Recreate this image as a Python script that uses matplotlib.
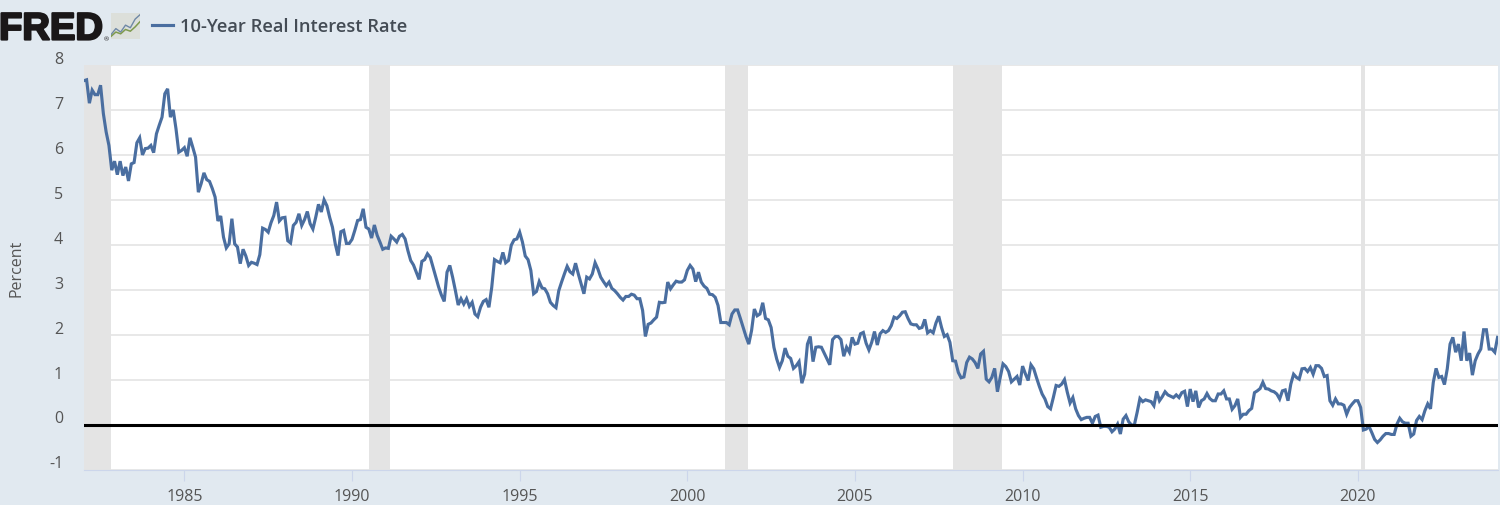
import numpy as np
import matplotlib
matplotlib.use('Agg')
import matplotlib.pyplot as plt
import matplotlib.patheffects as pe
from matplotlib.patches import Rectangle
from matplotlib.transforms import ScaledTranslation

# monthly values, one list per year
r1982 = [7.65, 7.67, 7.15, 7.44, 7.34, 7.34, 7.55, 6.92, 6.51, 6.21, 5.66, 5.86]
r1983 = [5.56, 5.86, 5.54, 5.73, 5.42, 5.80, 5.83, 6.27, 6.38, 6.00, 6.14, 6.15]
r1984 = [6.21, 6.05, 6.47, 6.66, 6.84, 7.36, 7.47, 6.84, 7.00, 6.58, 6.06, 6.10]
r1985 = [6.16, 5.97, 6.38, 6.17, 5.95, 5.17, 5.36, 5.60, 5.45, 5.41, 5.25, 5.06]
r1986 = [4.53, 4.64, 4.17, 3.93, 4.02, 4.58, 4.02, 3.95, 3.58, 3.90, 3.75, 3.54]
r1987 = [3.61, 3.59, 3.56, 3.78, 4.37, 4.34, 4.28, 4.49, 4.65, 4.95, 4.53, 4.60]
r1988 = [4.61, 4.09, 4.04, 4.43, 4.50, 4.69, 4.43, 4.56, 4.74, 4.47, 4.35, 4.61]
r1989 = [4.90, 4.73, 5.00, 4.87, 4.61, 4.39, 4.02, 3.76, 4.29, 4.32, 4.03, 4.03]
r1990 = [4.12, 4.32, 4.54, 4.56, 4.80, 4.39, 4.35, 4.15, 4.44, 4.21, 4.06, 3.90]
r1991 = [3.93, 3.92, 4.19, 4.13, 4.06, 4.19, 4.23, 4.13, 3.87, 3.65, 3.55, 3.39]
r1992 = [3.23, 3.63, 3.67, 3.80, 3.72, 3.50, 3.28, 3.06, 2.88, 2.74, 3.39, 3.54]
r1993 = [3.28, 2.98, 2.66, 2.80, 2.68, 2.80, 2.63, 2.72, 2.46, 2.40, 2.61, 2.74]
r1994 = [2.78, 2.61, 3.05, 3.67, 3.63, 3.60, 3.83, 3.60, 3.65, 3.99, 4.11, 4.13]
r1995 = [4.28, 4.06, 3.75, 3.67, 3.43, 2.91, 2.96, 3.18, 3.04, 3.02, 2.91, 2.72]
r1996 = [2.65, 2.60, 2.98, 3.17, 3.35, 3.52, 3.40, 3.35, 3.59, 3.35, 3.13, 2.91]
r1997 = [3.28, 3.24, 3.35, 3.60, 3.46, 3.28, 3.18, 3.09, 3.17, 3.03, 2.98, 2.91]
r1998 = [2.83, 2.77, 2.85, 2.85, 2.90, 2.88, 2.80, 2.80, 2.54, 1.96, 2.23, 2.26]
r1999 = [2.33, 2.39, 2.72, 2.71, 2.72, 3.17, 3.02, 3.11, 3.19, 3.17, 3.17, 3.22]
r2000 = [3.43, 3.54, 3.46, 3.18, 3.39, 3.17, 3.08, 3.03, 2.90, 2.89, 2.83, 2.65]
r2001 = [2.27, 2.27, 2.27, 2.22, 2.46, 2.55, 2.55, 2.36, 2.16, 1.96, 1.79, 2.09]
r2002 = [2.57, 2.42, 2.46, 2.71, 2.36, 2.33, 2.16, 1.72, 1.46, 1.27, 1.42, 1.70]
r2003 = [1.52, 1.47, 1.25, 1.31, 1.40, 0.92, 1.12, 1.79, 1.96, 1.40, 1.72, 1.73]
r2004 = [1.72, 1.59, 1.46, 1.33, 1.89, 1.96, 1.96, 1.89, 1.52, 1.72, 1.61, 1.94]
r2005 = [1.79, 1.81, 2.02, 2.05, 1.81, 1.66, 1.83, 2.07, 1.77, 2.02, 2.09, 2.05]
r2006 = [2.09, 2.20, 2.39, 2.36, 2.42, 2.50, 2.51, 2.36, 2.24, 2.22, 2.22, 2.14]
r2007 = [2.16, 2.34, 2.04, 2.09, 2.04, 2.26, 2.41, 2.16, 1.96, 2.00, 1.83, 1.42]
r2008 = [1.41, 1.16, 1.04, 1.06, 1.38, 1.50, 1.46, 1.38, 1.25, 1.57, 1.63, 1.01]
r2009 = [0.95, 1.05, 1.25, 0.73, 1.05, 1.35, 1.29, 1.18, 0.95, 1.01, 1.07, 0.88]
r2010 = [1.30, 1.13, 0.98, 1.33, 1.24, 1.04, 0.85, 0.68, 0.57, 0.40, 0.35, 0.60]
r2011 = [0.87, 0.85, 0.90, 1.00, 0.72, 0.48, 0.60, 0.35, 0.20, 0.11, 0.14, 0.16]
r2012 = [0.16, 0.03, 0.18, 0.21, -0.06, -0.04, -0.04, -0.06, -0.16, -0.10, 0.01, -0.21]
r2013 = [0.12, 0.20, 0.06, -0.01, -0.01, 0.27, 0.58, 0.51, 0.55, 0.53, 0.51, 0.42]
r2014 = [0.74, 0.53, 0.62, 0.73, 0.66, 0.63, 0.60, 0.66, 0.60, 0.71, 0.74, 0.40]
r2015 = [0.79, 0.51, 0.75, 0.38, 0.53, 0.57, 0.69, 0.58, 0.53, 0.53, 0.68, 0.68]
r2016 = [0.75, 0.57, 0.57, 0.34, 0.42, 0.57, 0.16, 0.23, 0.23, 0.31, 0.36, 0.71]
r2017 = [0.75, 0.80, 0.94, 0.80, 0.79, 0.75, 0.73, 0.68, 0.57, 0.75, 0.77, 0.53]
r2018 = [0.90, 1.12, 1.05, 1.01, 1.24, 1.25, 1.18, 1.27, 1.12, 1.31, 1.31, 1.25]
r2019 = [1.07, 1.09, 0.53, 0.43, 0.57, 0.46, 0.46, 0.43, 0.23, 0.38, 0.46, 0.53]
r2020 = [0.53, 0.38, -0.12, -0.10, -0.04, -0.18, -0.33, -0.40, -0.34, -0.26, -0.20, -0.20]
r2021 = [-0.22, -0.22, 0.01, 0.14, 0.06, 0.03, 0.03, -0.26, -0.21, 0.09, 0.18, 0.11]
r2022 = [0.31, 0.46, 0.35, 0.94, 1.25, 1.05, 1.07, 0.89, 1.24, 1.79, 1.94, 1.61]
r2023 = [1.79, 1.42, 2.07, 1.42, 1.59, 1.10, 1.42, 1.57, 1.68, 2.11, 2.11, 1.68]
r2024 = [1.68, 1.61, 1.94]

rates = (r1982 + r1983 + r1984 + r1985 + r1986 + r1987 + r1988 + r1989 + r1990
         + r1991 + r1992 + r1993 + r1994 + r1995 + r1996 + r1997 + r1998 + r1999
         + r2000 + r2001 + r2002 + r2003 + r2004 + r2005 + r2006 + r2007 + r2008
         + r2009 + r2010 + r2011 + r2012 + r2013 + r2014 + r2015 + r2016 + r2017
         + r2018 + r2019 + r2020 + r2021 + r2022 + r2023 + r2024)

recession_start = [1981.9, 1990.5, 2001.12, 2007.91, 2020.09]
recession_end = [1982.82, 1991.12, 2001.8, 2009.4, 2020.22]
x_ticks = [1985, 1990, 1995, 2000, 2005, 2010, 2015, 2020]
y_ticks = [-1, 0, 1, 2, 3, 4, 5, 6, 7, 8]

# logo sparklines
logo_blue = [2, 9, 5, 13, 10, 20, 25]
logo_green = [0, 5, 3, 8, 6, 11, 17]

W, H = 1500, 506
plt.rcParams['font.family'] = ['Open Sans', 'DejaVu Sans']

fig = plt.figure(figsize=(15, 5.06), dpi=100, facecolor='#e1e9f0')
ax = fig.add_axes([84 / W, 1 - 470.5 / H, (1498 - 84) / W, (470.5 - 66) / H])

dates = 1982 + np.arange(len(rates)) / 12
line_color = '#4a6ea0'

for a, b in zip(recession_start, recession_end):
    ax.axvspan(a, b, color='#e4e4e4', lw=0, zorder=1)
ax.plot(dates, rates, color=line_color, lw=2.25, zorder=3, solid_joinstyle='miter',
        label='10-Year Real Interest Rate')
ax.axhline(0, color='black', lw=2.2, zorder=4)

ax.set_xlim(1982.006, 2024.18)
ax.set_ylim(-1, 8)
ax.set_xticks(x_ticks)
ax.set_yticks(y_ticks)
ax.set_yticklabels([str(v) for v in y_ticks])
ax.set_axisbelow(True)
ax.grid(axis='y', color='#e6e6e6', lw=1.3)

for side in ['top', 'left', 'right']:
    ax.spines[side].set_visible(False)
ax.spines['bottom'].set_color('#ccd6eb')
ax.tick_params(axis='x', length=8, width=0.8, color='#ccd6eb', labelsize=11.5,
               labelcolor='#555555', pad=5)
ax.tick_params(axis='y', length=0, labelsize=11.5, labelcolor='#555555', pad=15)

# y labels sit just above their gridlines
up = ScaledTranslation(0, 1.5 / 72, fig.dpi_scale_trans)
for label in ax.get_yticklabels():
    label.set_verticalalignment('baseline')
    label.set_transform(label.get_transform() + up)

fig.text(17 / W, 1 - 268 / H, 'Percent', rotation=90, ha='center', va='center',
         fontsize=11.5, color='#555555')

fig.legend(loc='center left', bbox_to_anchor=(135 / W, 1 - 27 / H), frameon=False,
           handlelength=1.15, handletextpad=0.38,
           labelcolor='#444c55', prop={'size': 13.2, 'weight': 600})

# header: top edge, logo
fig.add_artist(Rectangle((0, 1 - 1.2 / H), 1, 1.2 / H, transform=fig.transFigure,
                         color='#3d4248', lw=0))
logo = fig.text(-1 / W, 1 - 40.5 / H, 'FRED', family='Liberation Sans', weight='bold',
                fontsize=27.5, color='#1a1718', ha='left', va='baseline')
logo.set_path_effects([pe.withStroke(linewidth=1.6, foreground='#1a1718')])
fig.text(104 / W, 1 - 41 / H, '®', fontsize=4.5, color='#1a1718', ha='left', va='baseline')

icon = fig.add_axes([111 / W, 1 - 40 / H, 29 / W, 26 / H], facecolor='#dcdfda')
icon.plot(logo_blue, color='#6f88a6', lw=1)
icon.plot(logo_green, color='#7f9a4e', lw=1.1)
icon.set_xlim(0, 6)
icon.set_ylim(-3, 27)
icon.set_xticks([])
icon.set_yticks([])
for s in icon.spines.values():
    s.set_visible(False)

fig.savefig('out.png', dpi=100, facecolor=fig.get_facecolor())
